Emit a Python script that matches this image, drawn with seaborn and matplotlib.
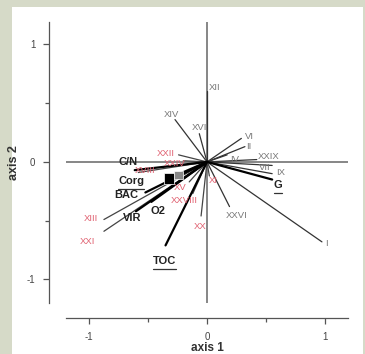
import numpy as np
import pandas as pd
import matplotlib
matplotlib.use('Agg')
import matplotlib.pyplot as plt
from matplotlib.patches import Rectangle
import seaborn as sns

# environmental vectors (bold, black)
env_names = ["C/N", "Corg", "BAC", "O2", "VIR", "TOC", "G"]
env_x = [-0.61, -0.32, -0.52, -0.47, -0.60, -0.35, 0.55]
env_y = [-0.07, -0.14, -0.26, -0.34, -0.42, -0.71, -0.15]
env_underline = ["Corg", "TOC", "G"]

# species vectors, grey labels
grey_names = ["XII", "XIV", "XVI", "VI", "II", "IV", "XXIX", "VII", "IX", "I", "XXVI"]
grey_x = [0.0, -0.27, -0.065, 0.29, 0.32, 0.17, 0.42, 0.55, 0.55, 0.97, 0.19]
grey_y = [0.60, 0.36, 0.24, 0.20, 0.13, 0.06, 0.02, -0.03, -0.10, -0.68, -0.38]

# species vectors, red labels
red_names = ["XXII", "XXIV", "XVIII", "XI", "XV", "XXVIII", "XX", "XIII", "XXI"]
red_x = [-0.24, -0.20, -0.58, 0.02, -0.15, -0.12, -0.05, -0.87, -0.87]
red_y = [0.06, 0.01, -0.09, -0.12, -0.17, -0.27, -0.46, -0.49, -0.59]

# label offsets from the vector tip (data units)
env_off = {"C/N": (-0.06, 0.07), "Corg": (-0.32, -0.02), "BAC": (-0.16, -0.02),
           "O2": (0.06, -0.08), "VIR": (-0.03, -0.06), "TOC": (-0.01, -0.13),
           "G": (0.05, -0.05)}
grey_off = {"XII": (0.06, 0.03), "XIV": (-0.03, 0.04), "XVI": (0.0, 0.05),
            "VI": (0.07, 0.02), "II": (0.03, 0.0), "IV": (0.06, -0.04),
            "XXIX": (0.10, 0.025), "VII": (-0.06, -0.02), "IX": (0.07, 0.01),
            "I": (0.04, -0.01), "XXVI": (0.06, -0.08)}
red_off = {"XXII": (-0.11, 0.01), "XXIV": (-0.07, -0.02), "XVIII": (0.06, 0.02),
           "XI": (0.03, -0.04), "XV": (-0.08, -0.05), "XXVIII": (-0.07, -0.06),
           "XX": (-0.01, -0.09), "XIII": (-0.11, 0.01), "XXI": (-0.14, -0.09)}

square_x = [-0.32, -0.24]
square_y = [-0.14, -0.11]


def segments(names, xs, ys):
    rows = []
    for n, x, y in zip(names, xs, ys):
        rows.append({"name": n, "x": 0.0, "y": 0.0})
        rows.append({"name": n, "x": x, "y": y})
    return pd.DataFrame(rows)


sns.set_style("ticks")
plt.rcParams['font.family'] = ['Liberation Sans', 'DejaVu Sans']

fig = plt.figure(figsize=(3.65, 3.54), dpi=100)
fig.patch.set_facecolor("#d6dac8")
fig.patches.append(Rectangle((12 / 365, 0), 351 / 365, 1 - 7 / 354,
                             transform=fig.transFigure, facecolor="white",
                             edgecolor="none", zorder=-10))
ax = fig.add_axes([66 / 365, 1 - 303 / 354, 282 / 365, 281 / 354])
ax.set_facecolor("none")

ax.axhline(0, color="#666666", lw=1.1, zorder=1)
ax.axvline(0, color="#666666", lw=1.1, zorder=1)

grey_df = segments(grey_names, grey_x, grey_y)
red_df = segments(red_names, red_x, red_y)
env_df = segments(env_names, env_x, env_y)

sns.lineplot(data=grey_df, x="x", y="y", units="name", estimator=None, sort=False,
             color="#333333", lw=0.9, ax=ax)
sns.lineplot(data=red_df, x="x", y="y", units="name", estimator=None, sort=False,
             color="#444444", lw=0.9, ax=ax)
sns.lineplot(data=env_df, x="x", y="y", units="name", estimator=None, sort=False,
             color="black", lw=1.6, ax=ax)

sns.scatterplot(x=square_x, y=square_y, marker="s", s=[60, 35],
                color=["black", "#888888"], edgecolor="white", linewidth=0.5,
                ax=ax, zorder=5, legend=False)

for n, x, y in zip(grey_names, grey_x, grey_y):
    dx, dy = grey_off[n]
    ax.text(x + dx, y + dy, n, color="#777777", fontsize=6.8, ha="center", va="center")
for n, x, y in zip(red_names, red_x, red_y):
    dx, dy = red_off[n]
    ax.text(x + dx, y + dy, n, color="#e06070", fontsize=6.8, ha="center", va="center")

ax.set_xlim(-1.19, 1.19)
ax.set_ylim(-1.2, 1.19)

env_texts = []
for n, x, y in zip(env_names, env_x, env_y):
    dx, dy = env_off[n]
    t = ax.text(x + dx, y + dy, n, color="#222222", fontsize=8, fontweight="bold",
                ha="center", va="center")
    env_texts.append((n, t))

fig.canvas.draw()
inv = ax.transData.inverted()
for n, t in env_texts:
    if n in env_underline:
        bb = t.get_window_extent().transformed(inv)
        uy = bb.y0 - 0.025
        ax.plot([bb.x0, bb.x1], [uy, uy], color="#333333", lw=0.9)

ax.set_xticks([-1, 0, 1])
ax.set_yticks([-1, 0, 1])
ax.set_xticks([-0.5, 0.5], minor=True)
ax.set_yticks([-0.5, 0.5], minor=True)
ax.set_xticklabels(["-1", "0", "1"])
ax.set_yticklabels(["-1", "0", "1"])
ax.tick_params(which="major", length=4, width=0.9, color="#555555",
               labelsize=7, labelcolor="#444444", pad=6)
ax.tick_params(which="minor", length=3, width=0.9, color="#555555")

for side in ["top", "right"]:
    ax.spines[side].set_visible(False)
ax.spines["left"].set_position(("outward", 12))
ax.spines["bottom"].set_position(("outward", 11))
for side in ["left", "bottom"]:
    ax.spines[side].set_color("#555555")
    ax.spines[side].set_linewidth(0.9)

ax.set_xlabel("axis 1", fontsize=8.5, fontweight="bold", color="#333333", labelpad=0)
ax.set_ylabel("axis 2", fontsize=9, fontweight="bold", color="#333333", labelpad=5)

fig.savefig("out.png", dpi=100, facecolor=fig.get_facecolor())
